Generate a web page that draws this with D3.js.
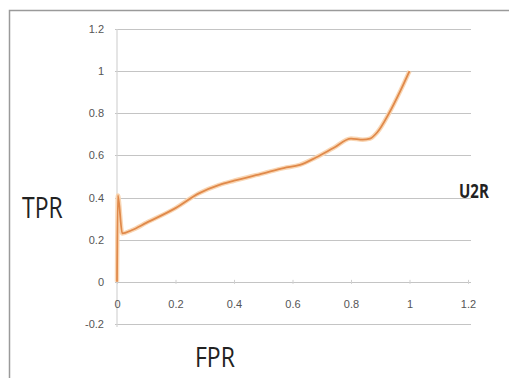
<!DOCTYPE html>
<html><head><meta charset="utf-8">
<script src="https://cdn.jsdelivr.net/npm/d3@7"></script>
<style>body{margin:0;background:#fff}svg{display:block}</style>
</head><body>
<svg id="c" width="509" height="378"></svg>
<script>
const fpr = [0, 0.003, 0.018, 0.05, 0.1, 0.2, 0.28, 0.35, 0.4, 0.5, 0.57, 0.625, 0.68, 0.74, 0.8, 0.84, 0.865, 0.89, 0.93, 0.97, 1];
const tpr = [0, 0.41, 0.23, 0.245, 0.28, 0.35, 0.42, 0.46, 0.48, 0.515, 0.54, 0.555, 0.59, 0.635, 0.68, 0.675, 0.68, 0.71, 0.8, 0.91, 1];
const xTicks = [0, 0.2, 0.4, 0.6, 0.8, 1, 1.2];
const yTicks = [-0.2, 0, 0.2, 0.4, 0.6, 0.8, 1, 1.2];
const seriesName = "U2R";

const svg = d3.select("#c");
svg.append("path").attr("d","M9.5,378 V10.5 H509").attr("fill","none").attr("stroke","#9a9a9a").attr("stroke-width",1.5);

const x = d3.scaleLinear().domain([0,1.2]).range([117,468]);
const y = d3.scaleLinear().domain([-0.2,1.2]).range([324,29]);

svg.append("g").selectAll("line").data(yTicks).join("line")
  .attr("x1",115).attr("x2",471)
  .attr("y1",d=>Math.round(y(d))+0.5).attr("y2",d=>Math.round(y(d))+0.5)
  .attr("stroke","#c4c4c4").attr("stroke-width",1.2);
svg.append("line").attr("x1",x(0)).attr("x2",x(0)).attr("y1",y(1.2)).attr("y2",y(-0.2)+3)
  .attr("stroke","#d4d4d4").attr("stroke-width",1.2);

const xa = d3.axisBottom(x).tickValues(xTicks).tickSize(4).tickFormat(d=>String(d));
const gx = svg.append("g").attr("transform",`translate(0,${y(0)})`).call(xa);
gx.select(".domain").remove();
gx.selectAll(".tick line").attr("stroke","#cfcfcf").attr("transform","translate(0,-2)");
gx.selectAll("text").attr("fill","#555").attr("font-family","Liberation Sans, Arial").attr("font-size",11).attr("dy","1.75em");

const ya = d3.axisLeft(y).tickValues(yTicks).tickSize(0).tickPadding(13).tickFormat(d=>String(d));
const gy = svg.append("g").attr("transform",`translate(${x(0)},0)`).call(ya);
gy.select(".domain").remove();
gy.selectAll("text").attr("fill","#555").attr("font-family","Liberation Sans, Arial").attr("font-size",11);

const pts = fpr.map((v,i)=>[v,tpr[i]]);
const line = d3.line().x(d=>x(d[0])).y(d=>y(d[1])).curve(d3.curveMonotoneX);
svg.append("path").datum(pts).attr("d",line).attr("fill","none")
  .attr("stroke","#f9d6b4").attr("stroke-width",4.5).attr("stroke-linejoin","round");
svg.append("path").datum(pts).attr("d",line).attr("fill","none")
  .attr("stroke","#e0894a").attr("stroke-width",1.8).attr("stroke-linejoin","round");

function label(txt, px, py, size, weight, sy){
  svg.append("text").attr("transform",`translate(${px},${py}) scale(1,${sy})`).text(txt)
    .attr("font-family","Open Sans, Liberation Sans").attr("font-size",size)
    .attr("font-weight",weight).attr("fill","#222");
}
label("TPR", 22, 218, 23, "normal", 1.3);
label("FPR", 195, 367, 23, "normal", 1.2);
label(seriesName, 459, 198, 15, "bold", 1.3);
</script>
</body></html>
